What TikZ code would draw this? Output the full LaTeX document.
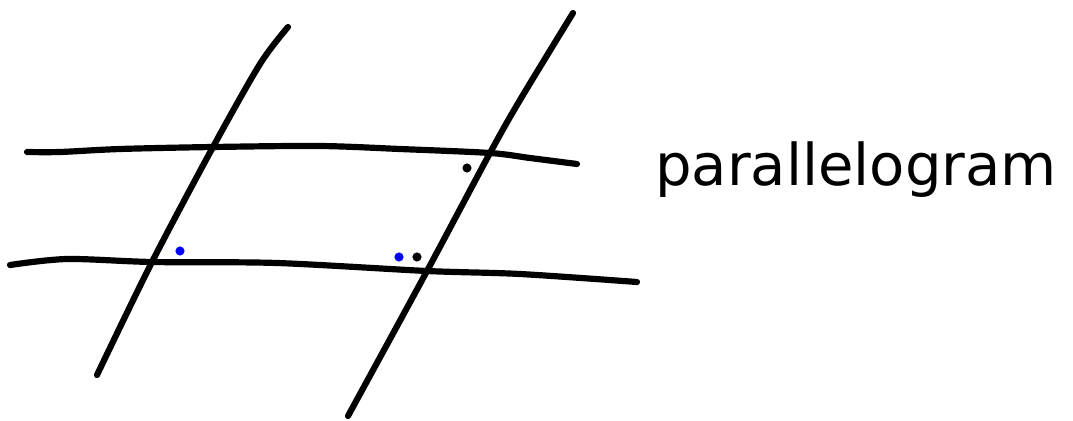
\documentclass[tikz,border=0pt]{standalone}
\usepackage{fontspec}
\newfontfamily\handfont{DejaVu Sans}
\begin{document}
\begin{tikzpicture}[x=0.025cm, y=-0.025cm, line cap=round, line join=round]
\tikzset{
  stroke/.style={line width=4.4pt, black},
  mark dot/.style={circle, fill=#1, inner sep=0pt, minimum size=6.5pt},
}
\useasboundingbox (0,0) rectangle (1073,421);

% the two near-horizontal lines
\draw[stroke] plot[smooth, tension=0.5] coordinates {(27,152) (60,152) (120,149) (213,147) (320,146) (400,149) (490,153) (530,158) (577,164)};
\draw[stroke] plot[smooth, tension=0.5] coordinates {(10,265) (67,259) (152,262) (277,263) (427,271) (520,274) (637,282)};
% the two slanted lines
\draw[stroke] plot[smooth, tension=0.5] coordinates {(97,375) (152,262) (213,147) (260,64) (288,27)};
\draw[stroke] plot[smooth, tension=0.5] coordinates {(348,416) (427,271) (490,153) (520,100) (573,13)};

% dots marking the angles
\node[mark dot=black] (t) at (467,168) {};
\node[mark dot=blue] (a) at (180,251) {};
\node[mark dot=blue] (b) at (399,257) {};
\node[mark dot=black] (c) at (417,257) {};

\node[anchor=base west, inner sep=0pt, font=\handfont\fontsize{41}{41}\selectfont] (name) at (655,185) {parallelogram};
\end{tikzpicture}
\end{document}
